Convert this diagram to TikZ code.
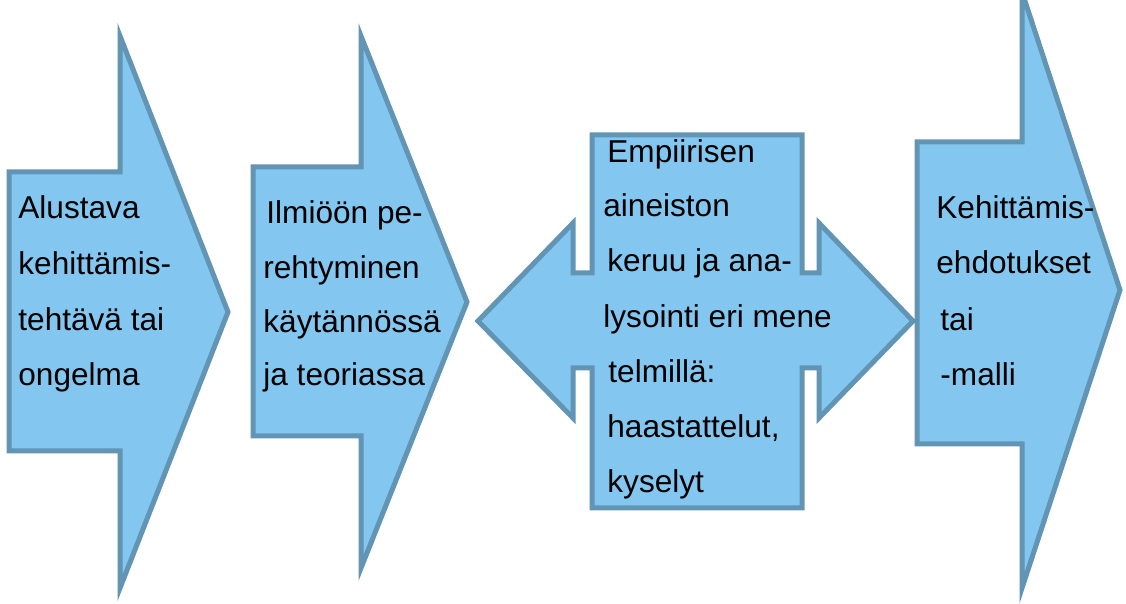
\documentclass[tikz,border=0pt]{standalone}
\usepackage{fontspec}
\setmainfont{Liberation Sans}
\definecolor{arrowfill}{RGB}{131,199,240}
\definecolor{arrowline}{RGB}{98,148,180}
\begin{document}
\begin{tikzpicture}[x=0.5pt,y=-0.5pt,
  shapebox/.style={fill=arrowfill,draw=arrowline,line width=2.5pt,line join=miter,miter limit=20},
  label/.style={anchor=base west,inner sep=0pt,font=\fontsize{15.8}{19}\selectfont}]
\useasboundingbox (0,0) rectangle (1126,604);
\clip (0,0) rectangle (1126,604);

% step 1
\draw[shapebox] (9,172) -- (120,172) -- (120,36) -- (228,312) -- (120,588)
  -- (120,451) -- (9,451) -- cycle;
% step 2
\draw[shapebox] (253,167) -- (361,167) -- (361,36) -- (467,302) -- (361,568)
  -- (361,436) -- (253,436) -- cycle;
% step 3: two-way arrow behind a tall box
\draw[shapebox] (592,135) -- (802,135) -- (802,273) -- (819,273) -- (819,223)
  -- (913,321) -- (819,418) -- (819,368) -- (802,368) -- (802,508)
  -- (592,508) -- (592,368) -- (573,368) -- (573,418) -- (478,321)
  -- (573,223) -- (573,273) -- (592,273) -- cycle;
% step 4
\draw[shapebox] (917,142) -- (1022,142) -- (1022,-8) -- (1120,290) -- (1022,588)
  -- (1022,444) -- (917,444) -- cycle;

% texts of step 1
\node[label] (a1) at (18,219) {Alustava};
\node[label] (a2) at (18,275) {kehittämis-};
\node[label] (a3) at (18,331) {tehtävä tai};
\node[label] (a4) at (18,386) {ongelma};

% texts of step 2
\node[label] (b1) at (266,224) {Ilmiöön pe-};
\node[label] (b2) at (263,279) {rehtyminen};
\node[label] (b3) at (263,333) {käytännössä};
\node[label] (b4) at (263,386) {ja teoriassa};

% texts of step 3
\node[label] (c1) at (607,163) {Empiirisen};
\node[label] (c2) at (603,217) {aineiston};
\node[label] (c3) at (607,272) {keruu ja ana-};
\node[label] (c4) at (603,328) {lysointi eri mene};
\node[label] (c5) at (608,383) {telmillä:};
\node[label] (c6) at (607,438) {haastattelut,};
\node[label] (c7) at (607,493) {kyselyt};

% texts of step 4
\node[label] (d1) at (936,219) {Kehittämis-};
\node[label] (d2) at (936,274) {ehdotukset};
\node[label] (d3) at (940,331) {tai};
\node[label] (d4) at (940,386) {-malli};
\end{tikzpicture}
\end{document}
